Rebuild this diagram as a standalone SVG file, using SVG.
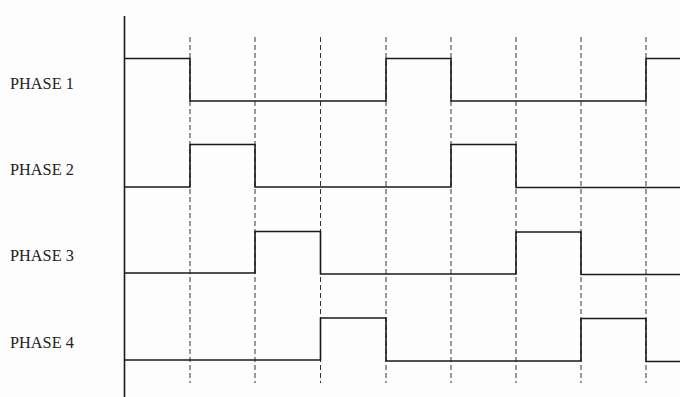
<svg xmlns="http://www.w3.org/2000/svg" width="680" height="397" viewBox="0 0 680 397">
<style>
.lbl{font-family:"Liberation Serif","Times New Roman",serif;font-size:16.3px;fill:#222}
.wave{fill:none;stroke:#1a1a1a;stroke-width:1.6}
.grid{stroke:#333;stroke-width:1;stroke-dasharray:5 3}
.axis{stroke:#1a1a1a;stroke-width:1.6}
</style>
<rect width="680" height="397" fill="#fdfdfd"/>
<g id="connectors">
<line class="axis" x1="124.5" y1="16" x2="124.5" y2="397"/>
<g id="grid">
<line class="grid" x1="190" y1="37" x2="190" y2="383"/>
<line class="grid" x1="255" y1="37" x2="255" y2="383"/>
<line class="grid" x1="320.5" y1="37" x2="320.5" y2="383"/>
<line class="grid" x1="386" y1="37" x2="386" y2="383"/>
<line class="grid" x1="451" y1="37" x2="451" y2="383"/>
<line class="grid" x1="516" y1="37" x2="516" y2="383"/>
<line class="grid" x1="581" y1="37" x2="581" y2="383"/>
<line class="grid" x1="646" y1="37" x2="646" y2="383"/>
</g>
</g>
<g id="phase1">
<text class="lbl" x="10" y="89">PHASE 1</text>
<polyline class="wave" points="124.5,58.5 190,58.5 190,101 386,101 386,58.5 451,58.5 451,101 646,101 646,58.5 680,58.5"/>
</g>
<g id="phase2">
<text class="lbl" x="10" y="175">PHASE 2</text>
<polyline class="wave" points="124.5,187 190,187 190,144.5 255,144.5 255,187 451,187 451,144.5 516,144.5 516,187.5 680,187.5"/>
</g>
<g id="phase3">
<text class="lbl" x="10" y="261">PHASE 3</text>
<polyline class="wave" points="124.5,273 255,273 255,231.5 320.5,231.5 320.5,274 516,274 516,232 581,232 581,274.5 680,274.5"/>
</g>
<g id="phase4">
<text class="lbl" x="10" y="348">PHASE 4</text>
<polyline class="wave" points="124.5,360 320.5,360 320.5,318 386,318 386,361 581,361 581,318.5 646,318.5 646,361.5 680,361.5"/>
</g>
</svg>
